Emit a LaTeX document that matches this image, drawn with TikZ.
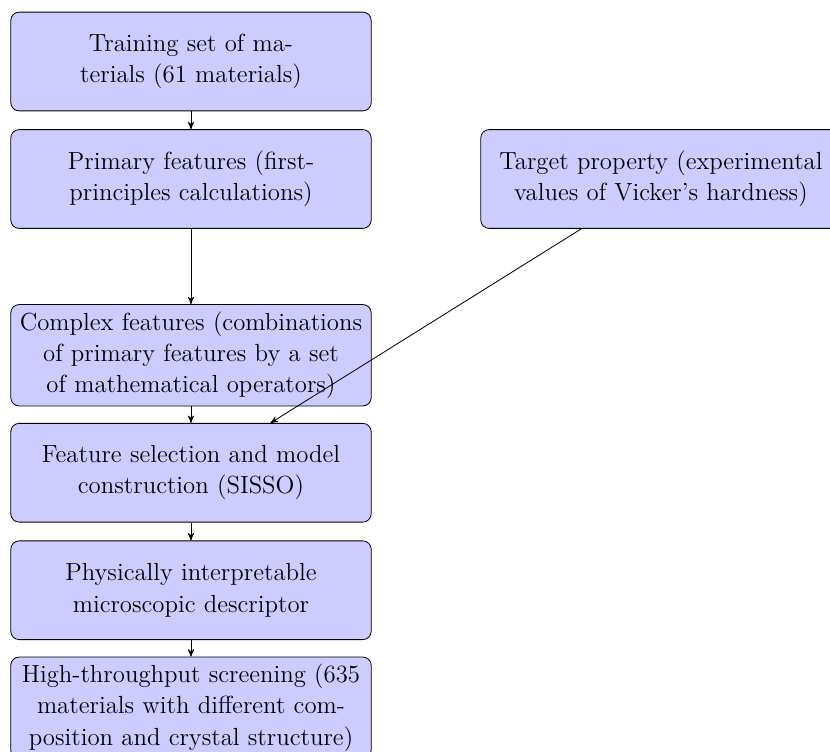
\documentclass[tikz,border=0pt]{standalone}
\usetikzlibrary{arrows,positioning}
\tikzset{
    %Define standard arrow tip
    >=stealth'
}
\definecolor{stepfill}{RGB}{204,204,255}

\begin{document}
\begin{tikzpicture}[font=\fontsize{12}{15.2}\selectfont, every text node part/.style={align=center},
    block/.style={rectangle, rounded corners, draw, fill=stepfill, text width=5.9cm, minimum height=1.68cm}]

	\useasboundingbox (-3.251, 1.047) rectangle (10.877, -11.753);
	\clip (-3.251, 1.047) rectangle (10.877, -11.753);

	\node (training) at (0, 0) [block] {Training set of materials (61 materials)};
	\node (primary) at (0, -2) [block] {Primary features (first-principles calculations)};
	\node (target) at (8, -2) [block] {Target property (experimental values of Vicker's hardness)};
	\node (complex) at (0, -5) [block] {Complex features (combinations of primary features by a set of mathematical operators)};
	\node (selection) at (0, -7) [block] {Feature selection and model construction (SISSO)};
	\node (descriptor) at (0, -9) [block] {Physically interpretable microscopic descriptor};
	\node (screening) at (0, -11) [block] {High-throughput screening (635 materials with different composition and crystal structure)};

	\draw[->] (training) -- (primary);
	\draw[->] (primary) -- (complex);
	\draw[->] (complex) -- (selection);
	\draw[->] (target) -- (selection);
	\draw[->] (selection) -- (descriptor);
	\draw[->] (descriptor) -- (screening);

\end{tikzpicture}
\end{document}
